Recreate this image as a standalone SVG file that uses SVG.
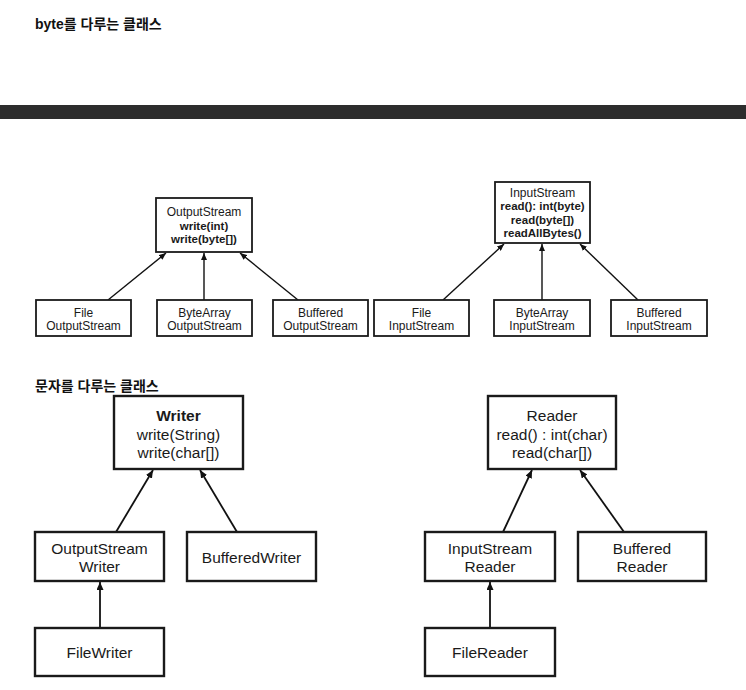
<svg xmlns="http://www.w3.org/2000/svg" width="746" height="690" viewBox="0 0 746 690">
<defs>
<style>
.t{font-family:"Liberation Sans","Noto Sans CJK KR",Arial,sans-serif;fill:#1a1a1a;text-anchor:middle}
.s{font-size:12px}
.sb{font-size:11.5px;font-weight:bold}
.l{font-size:15.5px}
.b{font-weight:bold}
.h{font-family:"Liberation Sans","Noto Sans CJK KR",sans-serif;font-weight:bold;fill:#111;font-size:14px}
.bx{fill:#fff;stroke:#1a1a1a;stroke-width:1.8}
.bx2{fill:#fff;stroke:#1a1a1a;stroke-width:2.4}
.c{stroke:#111;stroke-width:1.4;fill:none;marker-end:url(#ah)}
.c2{stroke:#111;stroke-width:1.8;fill:none;marker-end:url(#ah2)}
</style>
<marker id="ah" markerUnits="userSpaceOnUse" markerWidth="7" markerHeight="6" refX="7" refY="3" orient="auto"><path d="M0,0 L7,3 L0,6 z" fill="#111"/></marker>
<marker id="ah2" markerUnits="userSpaceOnUse" markerWidth="8" markerHeight="7" refX="8" refY="3.5" orient="auto"><path d="M0,0 L8,3.5 L0,7 z" fill="#111"/></marker>
</defs>
<rect width="746" height="690" fill="#fff"/>
<text class="h" x="35" y="29">byte를 다루는 클래스</text>
<rect x="0" y="105" width="746" height="14" fill="#2d2d2d"/>
<text class="h" x="35" y="391">문자를 다루는 클래스</text>

<g id="connectors">
<line class="c" x1="108" y1="300" x2="166" y2="253"/>
<line class="c" x1="204" y1="300" x2="204" y2="253"/>
<line class="c" x1="298" y1="300" x2="240" y2="253"/>
<line class="c" x1="443" y1="300" x2="504" y2="244"/>
<line class="c" x1="542" y1="300" x2="542" y2="244"/>
<line class="c" x1="638" y1="300" x2="580" y2="244"/>
<line class="c2" x1="116" y1="532" x2="153" y2="470"/>
<line class="c2" x1="237" y1="532" x2="200" y2="470"/>
<line class="c2" x1="100" y1="627" x2="100" y2="582"/>
<line class="c2" x1="503" y1="532" x2="532" y2="470"/>
<line class="c2" x1="624" y1="532" x2="580" y2="470"/>
<line class="c2" x1="490" y1="627" x2="490" y2="582"/>
</g>

<g id="OutputStream"><rect class="bx" x="156" y="198" width="96" height="54"/>
<text class="t s" x="204" y="216">OutputStream</text>
<text class="t sb" x="204" y="229.5">write(int)</text>
<text class="t sb" x="204" y="243">write(byte[])</text></g>
<g id="FileOutputStream"><rect class="bx" x="36" y="300" width="95" height="36"/>
<text class="t s" x="83.5" y="316.5">File</text><text class="t s" x="83.5" y="330">OutputStream</text></g>
<g id="ByteArrayOutputStream"><rect class="bx" x="157" y="300" width="95" height="36"/>
<text class="t s" x="204.5" y="316.5">ByteArray</text><text class="t s" x="204.5" y="330">OutputStream</text></g>
<g id="BufferedOutputStream"><rect class="bx" x="273" y="300" width="95" height="36"/>
<text class="t s" x="320.5" y="316.5">Buffered</text><text class="t s" x="320.5" y="330">OutputStream</text></g>

<g id="InputStream"><rect class="bx" x="495" y="182" width="95" height="61"/>
<text class="t s" x="542.5" y="196.5">InputStream</text>
<text class="t sb" x="542.5" y="210">read(): int(byte)</text>
<text class="t sb" x="542.5" y="223.5">read(byte[])</text>
<text class="t sb" x="542.5" y="237">readAllBytes()</text></g>
<g id="FileInputStream"><rect class="bx" x="374" y="300" width="95" height="36"/>
<text class="t s" x="421.5" y="316.5">File</text><text class="t s" x="421.5" y="330">InputStream</text></g>
<g id="ByteArrayInputStream"><rect class="bx" x="494" y="300" width="96" height="36"/>
<text class="t s" x="542" y="316.5">ByteArray</text><text class="t s" x="542" y="330">InputStream</text></g>
<g id="BufferedInputStream"><rect class="bx" x="611" y="300" width="96" height="36"/>
<text class="t s" x="659" y="316.5">Buffered</text><text class="t s" x="659" y="330">InputStream</text></g>

<g id="Writer"><rect class="bx2" x="114" y="396" width="129" height="73"/>
<text class="t l b" x="178.5" y="420.5">Writer</text>
<text class="t l" x="178.5" y="439.5">write(String)</text>
<text class="t l" x="178.5" y="458">write(char[])</text></g>
<g id="OutputStreamWriter"><rect class="bx2" x="35" y="532" width="129" height="49"/>
<text class="t l" x="99.5" y="554">OutputStream</text><text class="t l" x="99.5" y="572">Writer</text></g>
<g id="BufferedWriter"><rect class="bx2" x="187" y="532" width="129" height="49"/>
<text class="t l" x="251.5" y="562.5">BufferedWriter</text></g>
<g id="FileWriter"><rect class="bx2" x="35" y="628" width="129" height="48"/>
<text class="t l" x="99.5" y="658">FileWriter</text></g>

<g id="Reader"><rect class="bx2" x="488" y="396" width="128" height="73"/>
<text class="t l" x="552" y="420.5">Reader</text>
<text class="t l" x="552" y="439.5">read() : int(char)</text>
<text class="t l" x="552" y="458">read(char[])</text></g>
<g id="InputStreamReader"><rect class="bx2" x="425" y="532" width="130" height="49"/>
<text class="t l" x="490" y="554">InputStream</text><text class="t l" x="490" y="572">Reader</text></g>
<g id="BufferedReader"><rect class="bx2" x="578" y="532" width="128" height="49"/>
<text class="t l" x="642" y="554">Buffered</text><text class="t l" x="642" y="572">Reader</text></g>
<g id="FileReader"><rect class="bx2" x="425" y="628" width="130" height="48"/>
<text class="t l" x="490" y="658">FileReader</text></g>
</svg>
